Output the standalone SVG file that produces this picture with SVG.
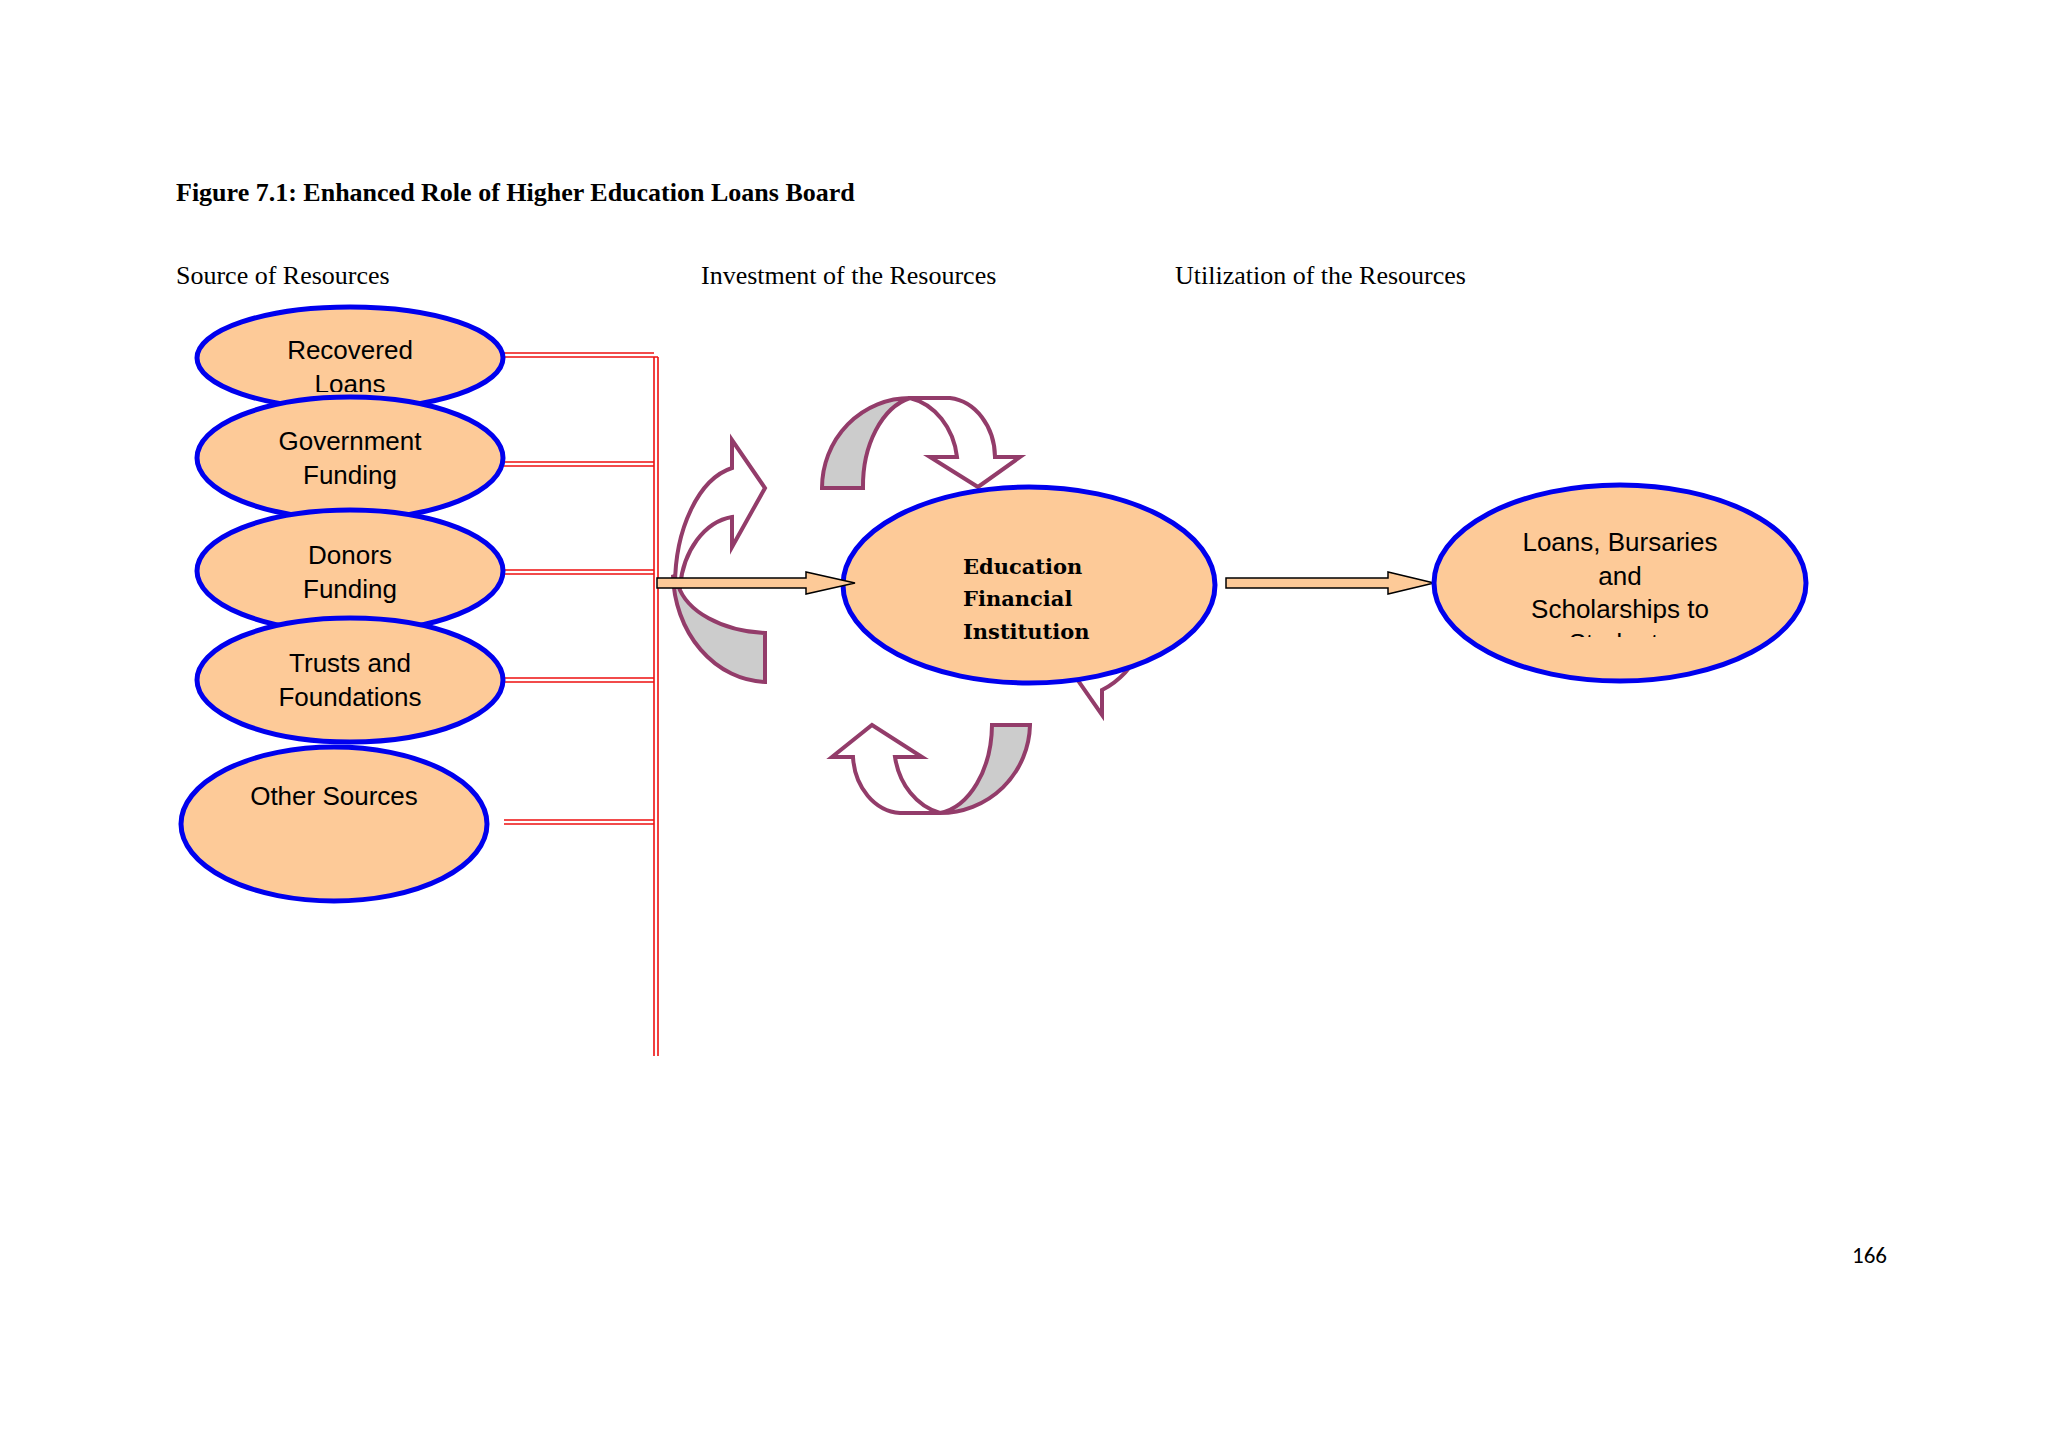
<svg xmlns="http://www.w3.org/2000/svg" width="2048" height="1449" viewBox="0 0 2048 1449">
<style>
.src{fill:#fdca98;stroke:#0000ee;stroke-width:5}
.t{font-family:"Liberation Sans",Arial,sans-serif;font-size:26px;fill:#000;text-anchor:middle}
.h{font-family:"Liberation Serif","Times New Roman",serif;font-size:26px;fill:#000}
.red{stroke:#ee1111;stroke-width:1.6;fill:none}
.cg{fill:#cccccc;stroke:#933c6a;stroke-width:4;stroke-linejoin:miter}
.cw{fill:#fff;stroke:#933c6a;stroke-width:4;stroke-linejoin:miter}
.ar{fill:#fdca98;stroke:#000;stroke-width:1.5}
.c{font-family:"DejaVu Serif","Liberation Serif",serif;font-weight:bold;font-size:21px;fill:#000}
</style>
<defs>
<clipPath id="c1"><ellipse cx="350" cy="358" rx="153" ry="51"/></clipPath>
<clipPath id="c1b"><rect x="150" y="300" width="400" height="92"/></clipPath>
<clipPath id="c6"><rect x="1400" y="480" width="450" height="157"/></clipPath>
</defs>
<rect width="2048" height="1449" fill="#fff"/>
<text x="176" y="201" class="h" font-weight="bold">Figure 7.1: Enhanced Role of Higher Education Loans Board</text>
<text x="176" y="284" class="h">Source of Resources</text>
<text x="701" y="284" class="h">Investment of the Resources</text>
<text x="1175" y="284" class="h">Utilization of the Resources</text>

<g id="connectors">
<path class="red" d="M504,353H654M504,357H658M504,462H654M504,466H654M504,570H654M504,574H654M504,678H654M504,682H654M504,820H654M504,824H654M654,357V1056M658,357V1056"/>
</g>

<g id="n1"><ellipse class="src" cx="350" cy="358" rx="153" ry="51"/><g clip-path="url(#c1b)"><text class="t" x="350" y="359">Recovered</text><text class="t" x="350" y="393">Loans</text></g></g>
<g id="n2"><ellipse class="src" cx="350" cy="458" rx="153" ry="61"/><text class="t" x="350" y="450">Government</text><text class="t" x="350" y="484">Funding</text></g>
<g id="n3"><ellipse class="src" cx="350" cy="571" rx="153" ry="61"/><text class="t" x="350" y="564">Donors</text><text class="t" x="350" y="598">Funding</text></g>
<g id="n4"><ellipse class="src" cx="350" cy="680" rx="153" ry="62"/><text class="t" x="350" y="672">Trusts and</text><text class="t" x="350" y="706">Foundations</text></g>
<g id="n5"><ellipse class="src" cx="334" cy="824" rx="153" ry="77"/><text class="t" x="334" y="805" font-size="25">Other Sources</text></g>

<g id="cycle">
<path class="cg" d="M673,575 A95,110 0 0 0 765,682 L765,633 A95,60 0 0 1 678,585 Z"/>
<path class="cw" d="M675,587 A70,120 0 0 1 732,468 L732,440 L765,488 L732,547 L732,517 A60,80 0 0 0 680,587 Z"/>
<path class="cg" d="M822,488 A88,90 0 0 1 910,398 A60,90 0 0 0 863,488 Z"/>
<path class="cw" d="M910,398 L950,398 A50,60 0 0 1 995,457 L1020,457 L978,487 L930,457 L957,457 A60,70 0 0 0 910,398 Z"/>
<path class="cg" d="M1072,497 A85,85 0 0 1 1157,580 A80,60 0 0 0 1072,542 Z"/>
<path class="cw" d="M1157,575 A85,115 0 0 1 1102,690 L1102,715 L1072,672 L1102,618 L1102,647 A55,75 0 0 0 1150,580 Z"/>
<path class="cg" d="M1030,725 A90,90 0 0 1 940,813 A60,90 0 0 0 992,725 Z"/>
<path class="cw" d="M940,813 L900,813 A50,60 0 0 1 853,757 L832,757 L872,725 L922,757 L895,757 A60,70 0 0 0 940,813 Z"/>
</g>

<g id="n6"><ellipse class="src" cx="1029" cy="585" rx="186" ry="98"/>
<text class="c" x="963" y="574">Education</text><text class="c" x="963" y="606">Financial</text><text class="c" x="963" y="639">Institution</text></g>

<g id="arrows">
<path class="ar" d="M657,578 H806 V572 L855,583 L806,594 V588 H657 Z"/>
<path class="ar" d="M1226,578 H1388 V572 L1434,583 L1388,594 V588 H1226 Z"/>
</g>

<g id="n7"><ellipse class="src" cx="1620" cy="583" rx="186" ry="98"/>
<g clip-path="url(#c6)"><text class="t" x="1620" y="551" font-size="27">Loans, Bursaries</text><text class="t" x="1620" y="585" font-size="27">and</text><text class="t" x="1620" y="618" font-size="27">Scholarships to</text><text class="t" x="1620" y="652" font-size="27">Students</text></g></g>

<text x="1852" y="1263" font-family="Carlito,'Liberation Sans',sans-serif" font-size="23">166</text>
</svg>
